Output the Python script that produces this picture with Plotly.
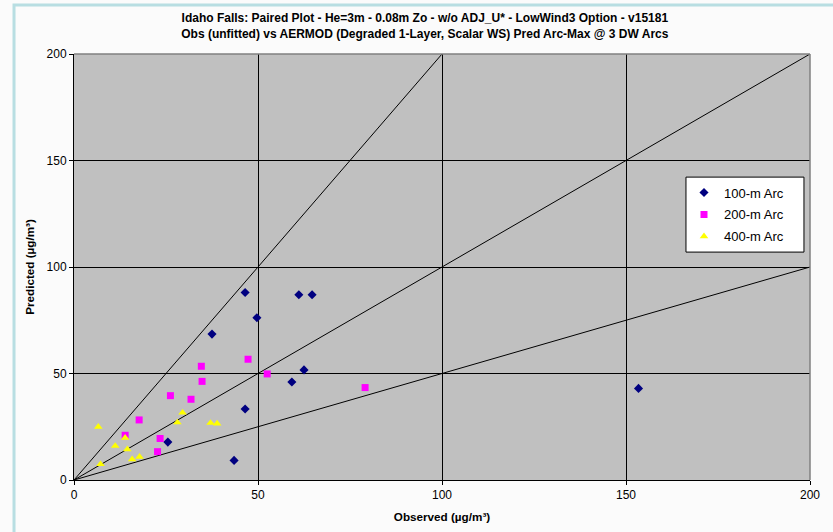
import plotly.graph_objects as go

# 100-m Arc (observed, predicted)
arc100_obs = [46.5, 61.1, 64.7, 49.7, 37.5, 62.5, 59.2, 46.5, 25.5, 43.5, 153.4]
arc100_pred = [88.0, 87.0, 87.0, 76.2, 68.5, 51.7, 46.0, 33.3, 17.8, 9.2, 43.0]

# 200-m Arc
arc200_obs = [13.9, 17.7, 22.7, 23.4, 26.2, 31.8, 34.6, 34.8, 47.3, 52.5, 79.1]
arc200_pred = [21.0, 28.2, 13.3, 19.5, 39.6, 37.9, 53.4, 46.3, 56.7, 49.8, 43.4]

# 400-m Arc
arc400_obs = [6.6, 13.9, 11.2, 14.5, 15.8, 17.8, 7.2, 29.5, 28.1, 37.1, 38.9]
arc400_pred = [25.0, 19.8, 16.0, 14.4, 9.7, 10.9, 7.4, 31.6, 27.0, 26.8, 26.5]

# reference ratio lines (2:1, 1:1, 1:2)
ref_x_2to1 = [0, 100]
ref_y_2to1 = [0, 200]
ref_x_1to1 = [0, 200]
ref_y_1to1 = [0, 200]
ref_x_1to2 = [0, 200]
ref_y_1to2 = [0, 100]

tick_vals = [0, 50, 100, 150, 200]

title_text = ("<b>Idaho Falls: Paired Plot - He=3m - 0.08m Zo - w/o ADJ_U* - LowWind3 Option - v15181<br>"
              "Obs (unfitted) vs AERMOD (Degraded 1-Layer, Scalar WS) Pred Arc-Max @ 3 DW Arcs</b>")

fig = go.Figure()

for rx, ry in [(ref_x_2to1, ref_y_2to1), (ref_x_1to1, ref_y_1to1), (ref_x_1to2, ref_y_1to2)]:
    fig.add_trace(go.Scatter(x=rx, y=ry, mode="lines", line=dict(color="black", width=1),
                             showlegend=False, hoverinfo="skip"))

fig.add_trace(go.Scatter(x=arc100_obs, y=arc100_pred, mode="markers", name="100-m Arc",
                         legendgroup="a", marker=dict(symbol="diamond", size=7, color="#000080")))
fig.add_trace(go.Scatter(x=arc200_obs, y=arc200_pred, mode="markers", name="200-m Arc",
                         legendgroup="b", marker=dict(symbol="square", size=7, color="#ff00ff")))
fig.add_trace(go.Scatter(x=arc400_obs, y=arc400_pred, mode="markers", name="400-m Arc",
                         legendgroup="c", marker=dict(symbol="triangle-up", size=7.5, color="#ffff00")))

axis_common = dict(
    range=[0, 200], tickvals=tick_vals, showgrid=True, gridcolor="black", gridwidth=1,
    zeroline=False, showline=True, linecolor="black", linewidth=1,
    ticks="outside", ticklen=4, tickcolor="black", automargin=False,
    tickfont=dict(family="Arial, Liberation Sans", size=12, color="black"),
)

fig.update_layout(
    width=833, height=532,
    margin=dict(l=74, r=23, t=54, b=52),
    paper_bgcolor="#fbfbfb", plot_bgcolor="#c0c0c0",
    font=dict(family="Arial, Liberation Sans", color="black"),
    title=dict(text=title_text, x=0.51, xanchor="center", xref="container",
               y=0.958, yanchor="top", yref="container",
               font=dict(family="Arial, Liberation Sans", size=12, color="black")),
    xaxis=dict(axis_common, title=dict(text="<b>Observed (µg/m³)</b>", standoff=11,
                                       font=dict(size=11.7))),
    yaxis=dict(axis_common, title=dict(text="<b>Predicted (µg/m³)</b>", standoff=9,
                                       font=dict(size=11.7))),
    legend=dict(x=0.8288, y=0.71, xanchor="left", yanchor="top",
                bgcolor="rgba(0,0,0,0)", borderwidth=0,
                font=dict(family="Arial, Liberation Sans", size=13, color="black"),
                tracegroupgap=2, traceorder="grouped"),
    showlegend=True,
    shapes=[
        # gray plot-area border on top and right
        dict(type="line", xref="paper", yref="paper", x0=0, x1=1, y0=1, y1=1,
             line=dict(color="#808080", width=1.5), layer="above"),
        dict(type="line", xref="paper", yref="paper", x0=1, x1=1, y0=0, y1=1,
             line=dict(color="#808080", width=1.5), layer="above"),
        # legend box
        dict(type="rect", xref="paper", yref="paper", x0=0.8315, x1=0.9918, y0=0.535, y1=0.711,
             fillcolor="white", line=dict(color="black", width=1), layer="above"),
        # light blue chart frame (top and left)
        dict(type="path", xref="paper", yref="paper",
             path="M -0.0815,-0.2 L -0.0815,1.115 L 1.1,1.115",
             line=dict(color="#b8dee2", width=3)),
    ],
)

fig.write_html("out.html", post_script="document.body.style.margin='0';",
               config={"displayModeBar": False})
